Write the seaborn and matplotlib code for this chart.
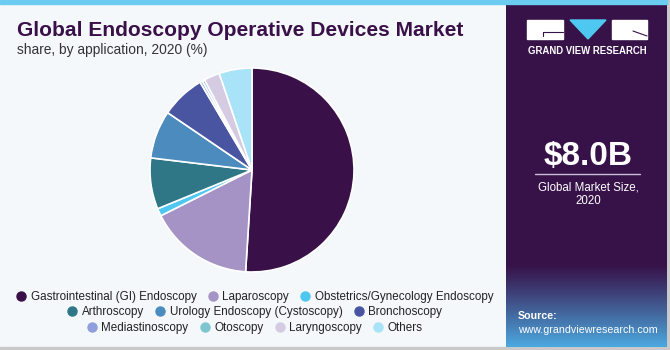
import numpy as np
import matplotlib
matplotlib.use("Agg")
import matplotlib.pyplot as plt
from matplotlib.lines import Line2D
from matplotlib.patches import Rectangle, Polygon
import seaborn as sns

categories = [
    "Gastrointestinal (GI) Endoscopy", "Laparoscopy", "Obstetrics/Gynecology Endoscopy",
    "Arthroscopy", "Urology Endoscopy (Cystoscopy)", "Bronchoscopy",
    "Mediastinoscopy", "Otoscopy", "Laryngoscopy", "Others",
]
shares = [51.0, 16.6, 1.2, 8.1, 7.6, 7.0, 0.4, 0.4, 2.5, 5.2]
colors = ["#3a1048", "#a593c5", "#4ec8f0", "#2f7686", "#4b8bbd", "#4a55a2",
          "#8f9fdd", "#7fc5cf", "#d5cce3", "#a8e3f8"]
legend_rows = [[0, 1, 2], [3, 4, 5], [6, 7, 8, 9]]

sns.set_theme(style="white")
plt.rcParams['font.family'] = ['Liberation Sans', 'DejaVu Sans']

W, H = 670, 350
fig = plt.figure(figsize=(W / 100, H / 100), dpi=100)
fig.patch.set_facecolor("#f4f8fb")
renderer = fig.canvas.get_renderer()


def fit_width(t, target_px):
    bb = t.get_window_extent(renderer=renderer)
    t.set_fontsize(t.get_fontsize() * target_px / bb.width)


bg = fig.add_axes([0, 0, 1, 1])
bg.set_xlim(0, W)
bg.set_ylim(H, 0)
bg.axis("off")
bg.add_patch(Rectangle((0, 0), W, 4, color="#6ccbf0", zorder=1))
bg.add_patch(Rectangle((667, 0), 3, H, color="#c9c9c9", zorder=1))
bg.add_patch(Rectangle((0, 347), W, 3, color="#c9c9c9", zorder=1))

# right panel with gradient
px0, px1, py0, py1 = 506, 667, 4, 347
grad = np.ones((200, 1, 3))
top = np.array([0x37, 0x12, 0x49]) / 255
bot = np.array([0x4c, 0xa8, 0xdf]) / 255
ys = np.linspace(py0, py1, 200)
for i, yy in enumerate(ys):
    t = np.clip((yy - 265) / (py1 - 265), 0, 1) ** 1.1
    grad[i, 0] = top * (1 - t) + bot * t
bg.imshow(grad, extent=(px0, px1, py1, py0), aspect="auto", zorder=2, interpolation="bilinear")
bg.set_xlim(0, W)
bg.set_ylim(H, 0)
bg.add_patch(Rectangle((px0, 0), px1 - px0, 4, color="#6ccbf0", zorder=3))

# logo
bg.add_patch(Rectangle((527, 20), 36, 19, color="white", zorder=4))
bg.add_patch(Polygon([(570, 20), (606, 20), (588, 39)], closed=True, color="#4ec8f0", zorder=4))
bg.add_patch(Rectangle((612, 20), 35, 19, color="white", zorder=4))
bg.plot([543, 563], [32, 32], color="#371249", lw=0.8, zorder=5)
bg.plot([543, 543], [32, 36], color="#371249", lw=0.8, zorder=5)
bg.plot([633, 647], [31, 36], color="#371249", lw=0.8, zorder=5)
t = bg.text(587, 51, "GRAND VIEW RESEARCH", color="white", fontsize=7.0, fontweight="bold",
            ha="center", va="center", zorder=5)
fit_width(t, 120)

t = bg.text(588, 157, "$8.0B", color="white", fontsize=25, fontweight="bold",
            ha="center", va="center", zorder=5)
fit_width(t, 89)
bg.plot([535, 640], [173.5, 173.5], color="#c9bfd6", lw=1, zorder=5)
t = bg.text(588, 187, "Global Market Size,", color="white", fontsize=8.4, ha="center", va="center", zorder=5)
fit_width(t, 101)
bg.text(588, 201, "2020", color="white", fontsize=t.get_fontsize(), ha="center", va="center", zorder=5)
t1 = bg.text(518, 316, "Source:", color="white", fontsize=7.4, fontweight="bold", ha="left", va="center", zorder=5)
t2 = bg.text(518, 330, "www.grandviewresearch.com", color="white", fontsize=7.4, ha="left", va="center", zorder=5)
fit_width(t2, 138)
t1.set_fontsize(t2.get_fontsize())

# title
t = fig.text(17 / W, 1 - 30 / H, "Global Endoscopy Operative Devices Market", fontsize=15.5,
             fontweight="bold", color="#3a1048", ha="left", va="center",
             family=["Liberation Sans Narrow", "Liberation Sans"])
fit_width(t, 446)
t = fig.text(17 / W, 1 - 50 / H, "share, by application, 2020 (%)", fontsize=9.8,
             color="#333333", ha="left", va="center")
fit_width(t, 190)

# pie
cx, cy, r = 252, 170, 102
ax = fig.add_axes([(cx - r) / W, 1 - (cy + r) / H, 2 * r / W, 2 * r / H])
ax.pie(shares, colors=colors, startangle=90, counterclock=False,
       wedgeprops=dict(edgecolor="white", linewidth=1.2))
ax.set_xlim(-1, 1)
ax.set_ylim(-1, 1)
ax.set_aspect("equal")
ax.axis("off")

# legends
row_y = [297, 312, 328]
for rows, yy in zip(legend_rows, row_y):
    handles = [Line2D([0], [0], marker="o", linestyle="", markersize=6.5,
                      markerfacecolor=colors[i], markeredgecolor=colors[i]) for i in rows]
    labels = [categories[i] for i in rows]
    fig.legend(handles, labels, loc="center", bbox_to_anchor=(255 / W, 1 - yy / H),
               ncol=len(rows), frameon=False, fontsize=8.4, handlelength=0.8,
               handletextpad=0.4, columnspacing=1.0, borderpad=0, labelcolor="#222222")

fig.savefig("out.png", dpi=100, facecolor=fig.get_facecolor())
